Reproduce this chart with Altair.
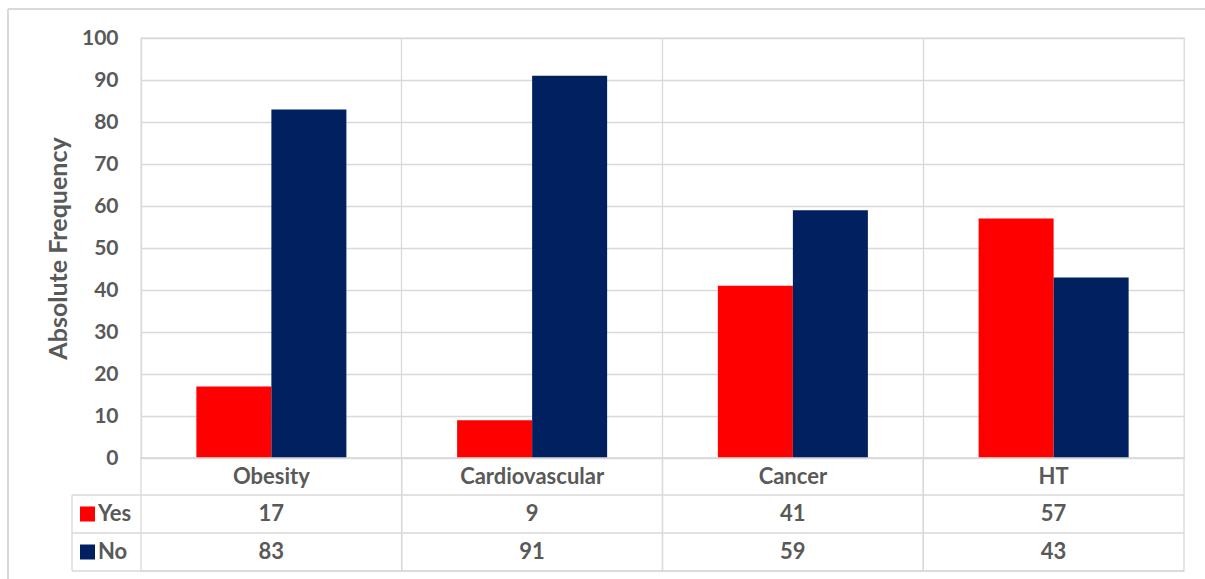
import altair as alt
import pandas as pd

# Chart values
categories = ["Obesity", "Cardiovascular", "Cancer", "HT"]
yes_counts = [17, 9, 41, 57]
no_counts = [83, 91, 59, 43]
series_names = ["Yes", "No"]
series_colors = ["#FF0000", "#002060"]
y_ticks = list(range(0, 101, 10))

rows = []
for cat, y, n in zip(categories, yes_counts, no_counts):
    rows.append({"category": cat, "series": "Yes", "value": y})
    rows.append({"category": cat, "series": "No", "value": n})
df = pd.DataFrame(rows)
cat_df = pd.DataFrame({"category": categories})
one = pd.DataFrame({"k": [0]})

FONT = "Lato"
GRAY = "#595959"
GRID = "#d9d9d9"
FS = 22                   # label / table text size
W, H = 1043, 420          # plot area
ROW = 38                  # data-table row height
HEADER = 37               # category header row height
LEFT_COL = 69             # legend column width
SW = 1.3

x_scale = alt.Scale(domain=categories, paddingInner=0, paddingOuter=0)
color_scale = alt.Scale(domain=series_names, range=series_colors)

bars = alt.Chart(df).mark_bar().encode(
    x=alt.X(
        "category:N", scale=x_scale, sort=categories,
        axis=alt.Axis(
            title=None, orient="bottom", grid=True, bandPosition=0,
            gridColor=GRID, gridWidth=SW, ticks=False, domain=False,
            labelFont=FONT, labelFontSize=FS, labelFontWeight="bold",
            labelColor=GRAY, labelPadding=8, labelAngle=0,
        ),
    ),
    xOffset=alt.XOffset(
        "series:N", sort=series_names,
        scale=alt.Scale(domain=series_names, paddingInner=0, paddingOuter=0.738),
    ),
    y=alt.Y(
        "value:Q", scale=alt.Scale(domain=[0, 100], nice=False),
        axis=alt.Axis(
            values=y_ticks, title="Absolute Frequency", grid=True,
            gridColor=GRID, gridWidth=SW, ticks=False, domain=False,
            labelFont=FONT, labelFontSize=21, labelFontWeight="bold",
            labelColor=GRAY, labelPadding=23,
            titleFont=FONT, titleFontSize=25, titleFontWeight="bold",
            titleColor=GRAY, titlePadding=10,
        ),
    ),
    color=alt.Color("series:N", scale=color_scale, legend=None),
)

# Data table: one bordered column per category, spanning header and value rows
table_bottom = H + HEADER + ROW * len(series_names)
cells = alt.Chart(cat_df).mark_rect(fillOpacity=0, stroke=GRID, strokeWidth=SW).encode(
    x=alt.X("category:N", scale=x_scale, sort=categories),
    y=alt.value(H),
    y2=alt.value(table_bottom),
)

layers = [bars, cells]

# Horizontal row separators and the legend column frame
for i in range(len(series_names) + 1):
    y_line = H + HEADER + ROW * i
    layers.append(
        alt.Chart(one).mark_rule(color=GRID, strokeWidth=SW).encode(
            x=alt.value(-LEFT_COL), x2=alt.value(W), y=alt.value(y_line)
        )
    )
layers.append(
    alt.Chart(one).mark_rule(color=GRID, strokeWidth=SW).encode(
        x=alt.value(-LEFT_COL), y=alt.value(H + HEADER), y2=alt.value(table_bottom)
    )
)

# Value rows with legend keys
for i, name in enumerate(series_names):
    yc = H + HEADER + ROW * i + ROW / 2
    sub = df[df["series"] == name]
    layers.append(
        alt.Chart(sub).mark_text(
            font=FONT, fontSize=FS, fontWeight="bold", color=GRAY, baseline="middle"
        ).encode(
            x=alt.X("category:N", scale=x_scale, sort=categories),
            y=alt.value(yc),
            text="value:Q",
        )
    )
    key = pd.DataFrame({"series": [name]})
    layers.append(
        alt.Chart(key).mark_square(size=225, opacity=1).encode(
            x=alt.value(-LEFT_COL + 15.5), y=alt.value(yc),
            color=alt.Color("series:N", scale=color_scale, legend=None),
        )
    )
    layers.append(
        alt.Chart(key).mark_text(
            font=FONT, fontSize=FS, fontWeight="bold", color=GRAY,
            baseline="middle", align="left",
        ).encode(x=alt.value(-LEFT_COL + 26), y=alt.value(yc), text="series:N")
    )

# Outer chart frame (left and top edges)
layers.append(
    alt.Chart(one).mark_rule(color=GRID, strokeWidth=2).encode(
        x=alt.value(-133), y=alt.value(-29), y2=alt.value(560)
    )
)
layers.append(
    alt.Chart(one).mark_rule(color=GRID, strokeWidth=2).encode(
        x=alt.value(-133), x2=alt.value(1080), y=alt.value(-29)
    )
)

chart = alt.layer(*layers).properties(
    width=W, height=H,
    autosize=alt.AutoSizeParams(type="none"),
    padding={"left": 141, "top": 38, "right": 21, "bottom": 121},
    background="white",
).configure_view(stroke=GRID, strokeWidth=SW)

chart.save("out.html", embed_options={"renderer": "svg", "actions": False})
